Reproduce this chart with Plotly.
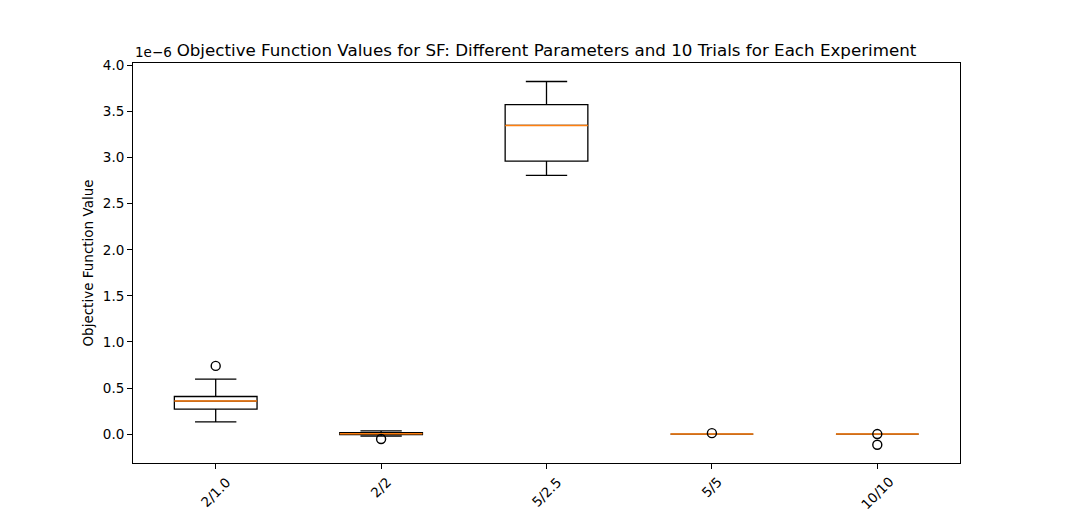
import plotly.graph_objects as go

# values in units of 1e-6 (matplotlib shows the offset "1e-6" above the axis)
experiments = ['2/1.0', '2/2', '5/2.5', '5/5', '10/10']
q1 = [0.271, -0.005, 2.963, 0.0, 0.0]
median = [0.358, 0.003, 3.350, 0.0, 0.0]
q3 = [0.408, 0.015, 3.577, 0.0, 0.0]
lower_whisker = [0.133, -0.022, 2.808, 0.0, 0.0]
upper_whisker = [0.596, 0.035, 3.827, 0.0, 0.0]

outlier_x = ['2/1.0', '2/2', '5/5', '10/10', '10/10']
outlier_y = [0.740, -0.054, 0.010, 0.0, -0.116]

FONT = 'DejaVu Sans'

fig = go.Figure()

# boxes with whiskers and caps
fig.add_trace(go.Box(
    x=experiments, q1=q1, median=median, q3=q3,
    lowerfence=lower_whisker, upperfence=upper_whisker,
    fillcolor='rgba(0,0,0,0)', line=dict(color='black', width=1.3),
    width=0.5, whiskerwidth=0.5, boxpoints=False, hoverinfo='skip',
))
# orange median lines as flat boxes painted over the black ones
fig.add_trace(go.Box(
    x=experiments, q1=median, median=median, q3=median,
    lowerfence=median, upperfence=median,
    fillcolor='rgba(0,0,0,0)', line=dict(color='#ff7f0e', width=1.5),
    width=0.5, whiskerwidth=0, boxpoints=False, hoverinfo='skip',
))
# fliers
fig.add_trace(go.Scatter(
    x=outlier_x, y=outlier_y, mode='markers',
    marker=dict(symbol='circle-open', size=9, color='black', line=dict(width=1.4)),
))

fig.update_layout(
    width=1067, height=520,
    paper_bgcolor='white', plot_bgcolor='white',
    showlegend=False,
    boxmode='overlay',
    margin=dict(l=125, r=115, t=55, b=65),
    font=dict(family=FONT, size=13.5, color='black'),
    title=dict(text='Objective Function Values for SF: Different Parameters and 10 Trials for Each Experiment',
               xref='paper', x=0.5, xanchor='center', yref='paper', y=1, yanchor='bottom', pad=dict(b=7),
               font=dict(size=16.7, family=FONT)),
)
fig.update_xaxes(
    type='category', range=[-0.5, 4.5],
    showline=True, linecolor='black', linewidth=1, mirror=True,
    ticks='outside', ticklen=5, tickcolor='black',
    showticklabels=False, showgrid=False, zeroline=False,
)
fig.update_yaxes(
    range=[-0.314, 4.028],
    tickvals=[0, 0.5, 1, 1.5, 2, 2.5, 3, 3.5, 4],
    ticktext=['0.0', '0.5', '1.0', '1.5', '2.0', '2.5', '3.0', '3.5', '4.0'],
    showline=True, linecolor='black', linewidth=1, mirror=True,
    ticks='outside', ticklen=5, tickcolor='black',
    showgrid=False, zeroline=False,
    title=dict(text='Objective Function Value', standoff=6, font=dict(size=13.5)),
)

# rotated category labels centred under each tick, like matplotlib rotation=45
for name in experiments:
    fig.add_annotation(
        x=name, xref='x', y=0, yref='paper', yanchor='top', yshift=-8,
        text=name, textangle=-45, showarrow=False, font=dict(size=13.5),
    )
# axis offset text
fig.add_annotation(
    x=0, xref='paper', y=1, yref='paper', xanchor='left', yanchor='bottom', yshift=1,
    text='1e\u22126', showarrow=False, font=dict(size=13.5),
)

fig.write_html('out.html')
